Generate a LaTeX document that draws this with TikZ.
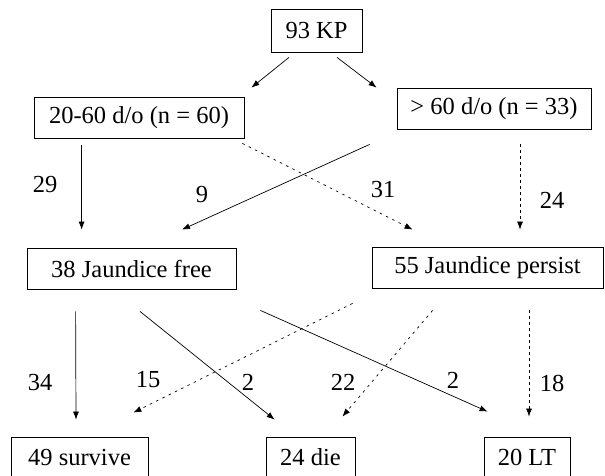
\documentclass[tikz,border=0pt]{standalone}
\usepackage{fontspec}
\setmainfont{Liberation Serif}
\usetikzlibrary{arrows.meta}

\tikzset{
  box/.style={draw, line width=0.8pt, inner sep=0pt, minimum height=41pt},
  arr/.style={line width=0.7pt, -{Latex[length=8pt,width=6pt]}},
  dotarr/.style={arr, dash pattern=on 2.5pt off 4.5pt},
  dasharr/.style={arr, dash pattern=on 3pt off 3pt},
  num/.style={inner sep=0pt}
}

\begin{document}
\begin{tikzpicture}[x=1pt, y=-1pt, font=\fontsize{24.5}{28}\selectfont]

    \useasboundingbox (0,0) rectangle (605,475);
    \clip (0,0) rectangle (605,475);

    % boxes
    \node [box, minimum width=91pt, minimum height=43pt] (kp) at (316.5,30.5) {93 KP};
    \node [box, minimum width=210pt] (age1) at (139,117.5) {20-60 d/o (n = 60)};
    \node [box, minimum width=194pt] (age2) at (494,108.5) {> 60 d/o (n = 33)};
    \node [box, minimum width=209pt] (free) at (131.5,268.5) {38 Jaundice free};
    \node [box, minimum width=231pt] (persist) at (487.5,267.5) {55 Jaundice persist};
    \node [box, minimum width=137pt] (survive) at (79.5,457.5) {49 survive};
    \node [box, minimum width=89pt] (die) at (310.5,457.5) {24 die};
    \node [box, minimum width=86pt] (lt) at (527,457.5) {20 LT};

    % first split
    \draw [arr] ([shift={(-27.5,5)}]kp.south) -- ([shift={(7,-9)}]age1.north east);
    \draw [arr] ([shift={(20.5,5)}]kp.south) -- ([shift={(-20,0)}]age2.north west);

    % age groups to jaundice
    \draw [arr] ([shift={(48,7)}]age1.south west) -- ([shift={(55,-18)}]free.north west);
    \draw [arr] ([shift={(-27,15)}]age2.south west) -- ([shift={(50.5,-18)}]free.north);
    \draw [dotarr] ([shift={(-2,5)}]age1.south east) -- ([shift={(41,-17)}]persist.north west);
    \draw [dasharr] ([shift={(26,15)}]age2.south) -- ([shift={(32.5,-17)}]persist.north);

    % jaundice to outcome
    \draw [arr] ([shift={(49,22)}]free.south west) -- ([shift={(-3.5,-17)}]survive.north);
    \draw [arr] ([shift={(8.5,22)}]free.south) -- ([shift={(9,-17)}]die.north west);
    \draw [arr] ([shift={(24,21)}]free.south east) -- ([shift={(4,-25)}]lt.north west);
    \draw [dotarr] ([shift={(-19,15)}]persist.south west) -- ([shift={(-15,-24)}]survive.north east);
    \draw [dotarr] ([shift={(61,22)}]persist.south west) -- ([shift={(-13,-20)}]die.north east);
    \draw [dasharr] ([shift={(41.5,22)}]persist.south) -- ([shift={(2,-20)}]lt.north);

    % counts
    \node [num] (n29) at (45,185) {29};
    \node [num] (n9) at (202,195) {9};
    \node [num] (n31) at (383,190) {31};
    \node [num] (n24) at (552,200) {24};
    \node [num] (n34) at (40,382) {34};
    \node [num] (n15) at (148,380) {15};
    \node [num] (n2a) at (248,382) {2};
    \node [num] (n22) at (343,382) {22};
    \node [num] (n2b) at (453,380) {2};
    \node [num] (n18) at (552,383) {18};
\end{tikzpicture}
\end{document}
